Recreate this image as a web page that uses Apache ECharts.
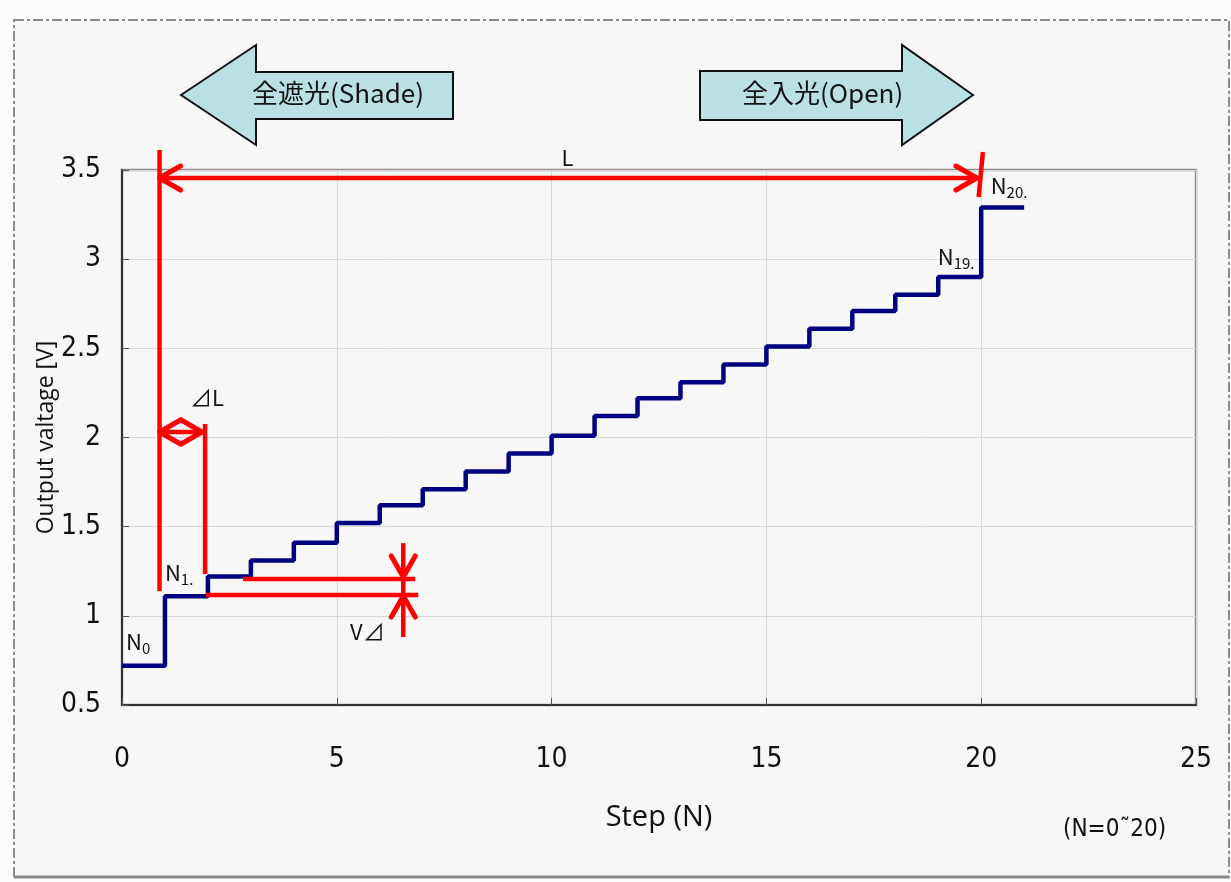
<!DOCTYPE html>
<html>
<head>
<meta charset="utf-8">
<script src="https://cdn.jsdelivr.net/npm/echarts@6/dist/echarts.min.js"></script>
<style>
html,body{margin:0;padding:0;background:#fbfbfb;}
#main{width:1231px;height:882px;}
</style>
</head>
<body>
<div id="main"></div>
<script>
// ---- data ----
const stepN = [0,1,2,3,4,5,6,7,8,9,10,11,12,13,14,15,16,17,18,19,20];
const outputV = [0.72,1.11,1.22,1.31,1.41,1.52,1.62,1.71,1.81,1.91,2.01,2.12,2.22,2.31,2.41,2.51,2.61,2.71,2.80,2.90,3.29];
const lastStepEnd = 21;
const xTicks = [0,5,10,15,20,25];
const yTicks = [0.5,1,1.5,2,2.5,3,3.5];

// red annotation segments: [x1, y1, x2, y2] in data units
const redSegments = [
  [0.874, 3.612, 0.874, 1.139],
  [0.874, 3.455, 19.90, 3.455],
  [20.04, 3.601, 19.94, 3.349],
  [1.934, 2.076, 1.934, 1.235],
  [0.874, 2.031, 1.864, 2.031],
  [2.819, 1.207, 6.826, 1.207],
  [1.957, 1.117, 6.896, 1.117],
  [6.547, 1.408, 6.547, 0.881]
];
// arrow tips: [x, y, direction] 0=left 1=right 2=up 3=down
const redArrowTips = [
  [0.874, 3.455, 0],
  [19.90, 3.455, 1],
  [0.874, 2.031, 0],
  [1.864, 2.031, 1],
  [6.547, 1.218, 3],
  [6.547, 1.111, 2]
];
// note labels anchored at data points (left/top anchor)
const noteX = [0.093, 1.00, 18.99, 20.22, 1.584, 5.31];
const noteY = [0.932, 1.319, 3.091, 3.489, 2.300, 0.990];
const noteText = ['{n|N}{s|0}', '{n|N}{s|1.}', '{n|N}{s|19.}', '{n|N}{s|20.}', '{n|⊿L}', '{n|V⊿}'];
const lengthLabel = 'L';
const lengthLabelPos = [10.37, 3.567];

const shadeText = '全遮光(Shade)';
const openText = '全入光(Open)';
const xName = 'Step (N)';
const yName = 'Output valtage [V]';
const rangeNote = '(N=0˜20)';

// ---- chart ----
const chart = echarts.init(document.getElementById('main'));
const tickFont = "'DejaVu Sans Condensed','DejaVu Sans',sans-serif";
const noteFont = "'Noto Sans CJK JP','Noto Sans',sans-serif";
const RED = '#ff0000';

const lineData = stepN.map((n, i) => [n, outputV[i]]);
lineData.push([lastStepEnd, outputV[outputV.length - 1]]);

const option = {
  backgroundColor: '#fbfbfb',
  animation: false,
  grid: {left: 122, right: 35, top: 170, bottom: 177, show: true, borderColor: '#8c8c8c', borderWidth: 2.5, backgroundColor: 'transparent'},
  xAxis: {
    type: 'value', min: xTicks[0], max: xTicks[xTicks.length - 1], interval: xTicks[1] - xTicks[0],
    axisLine: {lineStyle: {color: '#333', width: 2}},
    axisTick: {inside: true, length: 7, lineStyle: {color: '#555'}},
    splitLine: {lineStyle: {color: '#d9d9d9', width: 1}},
    axisLabel: {margin: 41, fontSize: 28, fontWeight: 'condensed', fontFamily: tickFont, color: '#111'},
    name: xName, nameLocation: 'middle', nameGap: 98, nameMoveOverlap: false,
    nameTextStyle: {fontSize: 29, fontFamily: "'Open Sans',sans-serif", color: '#111'}
  },
  yAxis: {
    type: 'value', min: yTicks[0], max: yTicks[yTicks.length - 1], interval: yTicks[1] - yTicks[0],
    axisLine: {show: true, lineStyle: {color: '#333', width: 2}},
    axisTick: {show: true, inside: true, length: 7, lineStyle: {color: '#555'}},
    splitLine: {lineStyle: {color: '#d9d9d9', width: 1}},
    axisLabel: {margin: 21, fontSize: 28, fontWeight: 'condensed', fontFamily: tickFont, color: '#111'},
    name: yName, nameLocation: 'middle', nameGap: 64, nameRotate: 90, nameMoveOverlap: false,
    nameTextStyle: {fontSize: 23, fontFamily: "'Open Sans',sans-serif", color: '#111'}
  },
  graphic: [
    {type: 'rect', z: -10, shape: {x: 14, y: 20, width: 1215, height: 857},
      style: {fill: '#f7f7f7', stroke: '#8a8a8a', lineWidth: 2, lineDash: [10, 3, 3, 3]}},
    {type: 'line', z: -9, shape: {x1: 14, y1: 877, x2: 1229, y2: 877}, style: {stroke: '#888', lineWidth: 3}},
    {type: 'polygon', shape: {points: [[181,95],[256,45],[256,72],[453,72],[453,119],[256,119],[256,145]]},
      style: {fill: '#b9e0e3', stroke: '#111', lineWidth: 2}},
    {type: 'polygon', shape: {points: [[700,71],[902,71],[902,45],[973,95],[902,145],[902,120],[700,120]]},
      style: {fill: '#b9e0e3', stroke: '#111', lineWidth: 2}},
    {type: 'text', left: 252, top: 80, style: {text: shadeText, fontSize: 26, fontFamily: noteFont, fill: '#111'}},
    {type: 'text', left: 742, top: 80, style: {text: openText, fontSize: 26, fontFamily: noteFont, fill: '#111'}},
    {type: 'text', left: 1063, top: 818, style: {text: rangeNote, fontSize: 24, fontWeight: 'condensed', fontFamily: tickFont, fill: '#111'}}
  ],
  series: [
    {
      type: 'line', step: 'end', data: lineData, symbol: 'none', z: 3,
      lineStyle: {color: '#000080', width: 4.5}
    },
    {
      type: 'custom', z: 5, data: redSegments, encode: {x: [0, 2], y: [1, 3]},
      renderItem: function (params, api) {
        const p1 = api.coord([api.value(0), api.value(1)]);
        const p2 = api.coord([api.value(2), api.value(3)]);
        return {type: 'line', shape: {x1: p1[0], y1: p1[1], x2: p2[0], y2: p2[1]},
          style: {stroke: RED, lineWidth: 4.5, lineCap: 'butt'}};
      }
    },
    {
      type: 'custom', z: 5, data: redArrowTips, encode: {x: 0, y: 1},
      renderItem: function (params, api) {
        const p = api.coord([api.value(0), api.value(1)]);
        const dir = api.value(2);
        const d = [[-1,0],[1,0],[0,-1],[0,1]][dir];
        const a = 21, w = 12;
        const n = [-d[1], d[0]];
        const b = [p[0] - a * d[0], p[1] - a * d[1]];
        return {type: 'polyline', shape: {points: [[b[0] + w * n[0], b[1] + w * n[1]], p, [b[0] - w * n[0], b[1] - w * n[1]]]},
          style: {stroke: RED, lineWidth: 5, lineCap: 'round', lineJoin: 'round', fill: null}};
      }
    },
    {
      type: 'custom', z: 6, data: noteX.map((x, i) => [x, noteY[i], i]), encode: {x: 0, y: 1},
      renderItem: function (params, api) {
        const p = api.coord([api.value(0), api.value(1)]);
        return {type: 'text', x: p[0], y: p[1], style: {
          text: noteText[api.value(2)], fill: '#111', align: 'left', verticalAlign: 'top',
          rich: {
            n: {fontSize: 22, fontFamily: noteFont, color: '#111', lineHeight: 28},
            s: {fontSize: 15, fontFamily: noteFont, color: '#111', verticalAlign: 'bottom', lineHeight: 22}
          }
        }};
      }
    },
    {
      type: 'custom', z: 6, data: [[lengthLabelPos[0], lengthLabelPos[1]]], encode: {x: 0, y: 1},
      renderItem: function (params, api) {
        const p = api.coord([api.value(0), api.value(1)]);
        return {type: 'text', x: p[0], y: p[1], style: {text: lengthLabel, fill: '#111', fontSize: 22,
          fontFamily: noteFont, align: 'center', verticalAlign: 'middle'}};
      }
    }
  ]
};
chart.setOption(option);
</script>
</body>
</html>
